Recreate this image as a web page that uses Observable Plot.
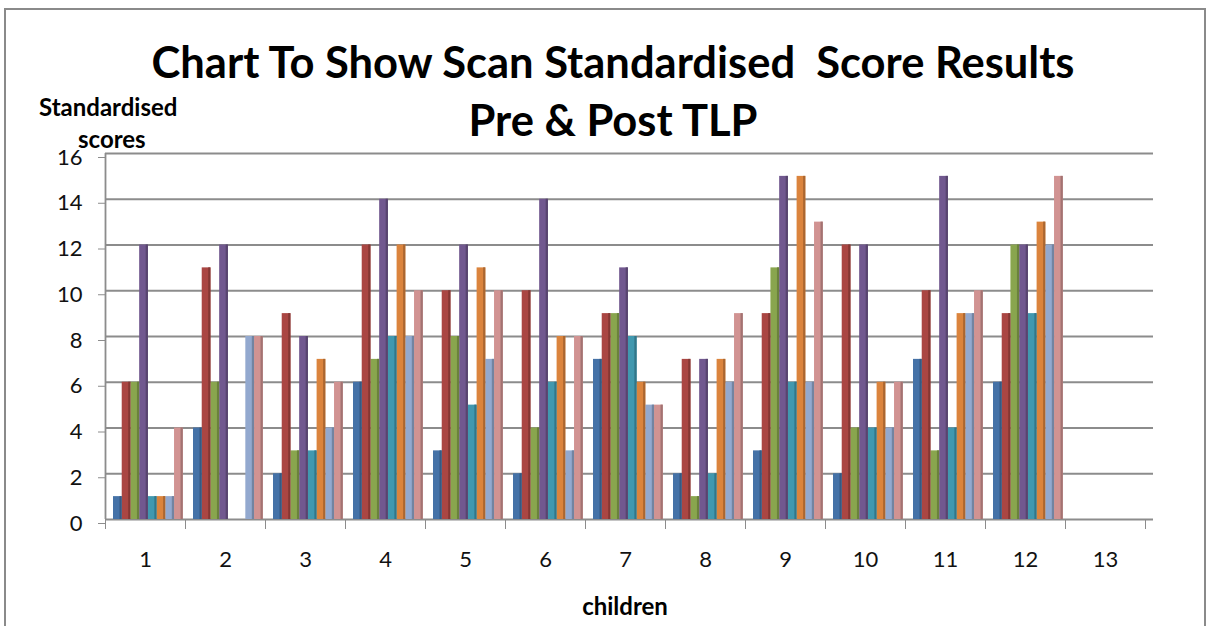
<!DOCTYPE html>
<html>
<head>
<meta charset="utf-8">
<script src="https://cdn.jsdelivr.net/npm/d3@7"></script>
<script src="https://cdn.jsdelivr.net/npm/@observablehq/plot@0.6"></script>
<style>
  html, body { margin: 0; padding: 0; background: #fff; overflow: hidden; }
  #page { position: relative; width: 1213px; height: 626px; font-family: Lato, "Open Sans", sans-serif; color: #000; }
  #border { position: absolute; left: 4px; top: 8px; width: 1202px; height: 660px; border: 2px solid #8a8a8a; box-sizing: border-box; }
  .title { position: absolute; left: 0; width: 1226px; text-align: center; font-weight: bold; font-size: 43.5px; white-space: pre; }
  .lab { position: absolute; font-weight: bold; font-size: 24px; white-space: pre; }
  #chart { position: absolute; left: 0; top: 0; }
</style>
</head>
<body>
<div id="page">
  <div id="border"></div>
  <div id="chart"></div>
  <div class="title" style="top:35px">Chart To Show Scan Standardised  Score Results</div>
  <div class="title" style="top:93px">Pre &amp; Post TLP</div>
  <div class="lab" style="left:39px; top:92px">Standardised</div>
  <div class="lab" style="left:78px; top:124px">scores</div>
  <div class="lab" style="left:12px; width:1226px; text-align:center; top:591px">children</div>
</div>
<script>
// Categories (children) and the eight series, in drawing order within each group
const children = [1, 2, 3, 4, 5, 6, 7, 8, 9, 10, 11, 12, 13];
const seriesNames = ["Series 1", "Series 2", "Series 3", "Series 4", "Series 5", "Series 6", "Series 7", "Series 8"];
const seriesColors = ["#4572A7", "#AA4643", "#89A54E", "#71588F", "#4198AF", "#DB843D", "#93A9CF", "#D19392"];

const series1 = [1, 4, 2, 6, 3, 2, 7, 2, 3, 2, 7, 6, null];
const series2 = [6, 11, 9, 12, 10, 10, 9, 7, 9, 12, 10, 9, null];
const series3 = [6, 6, 3, 7, 8, 4, 9, 1, 11, 4, 3, 12, null];
const series4 = [12, 12, 8, 14, 12, 14, 11, 7, 15, 12, 15, 12, null];
const series5 = [1, 0, 3, 8, 5, 6, 8, 2, 6, 4, 4, 9, null];
const series6 = [1, 0, 7, 12, 11, 8, 6, 7, 15, 6, 9, 13, null];
const series7 = [1, 8, 4, 8, 7, 3, 5, 6, 6, 4, 9, 12, null];
const series8 = [4, 8, 6, 10, 10, 8, 5, 9, 13, 6, 10, 15, null];

const yTicks = [0, 2, 4, 6, 8, 10, 12, 14, 16];

const allSeries = [series1, series2, series3, series4, series5, series6, series7, series8];

// Layout of bars inside each child's band (fractions of a band)
const groupStart = 0.1, barW = 0.109;

const rows = [];
children.forEach((c, ci) => {
  allSeries.forEach((s, si) => {
    const v = s[ci];
    if (v == null) return;
    const x1 = c - 0.5 + groupStart + si * barW;
    rows.push({child: c, series: seriesNames[si], value: v, x1, x2: x1 + barW, color: seriesColors[si]});
  });
});

const boundaries = [...children.map(c => c - 0.5), children[children.length - 1] + 0.5];

const chart = Plot.plot({
  width: 1213,
  height: 626,
  marginLeft: 105,
  marginRight: 68,
  marginTop: 153,
  marginBottom: 107,
  style: {fontFamily: "Lato, 'Open Sans', sans-serif", background: "transparent", overflow: "visible"},
  x: {domain: [boundaries[0], boundaries[boundaries.length - 1]], axis: null},
  y: {domain: [0, 16], axis: null},
  color: {domain: seriesNames, range: seriesColors},
  marks: [
    Plot.ruleY(yTicks, {stroke: "#8c8c8c", strokeWidth: 1.8, insetRight: -8}),
    Plot.ruleX([boundaries[0]], {y1: 0, y2: 16, stroke: "#8c8c8c", strokeWidth: 1.8}),
    Plot.axisY(yTicks, {tickSize: 7, tickPadding: 16, fontSize: 22, stroke: "#8c8c8c", color: "#111", dy: 4, label: null}),
    Plot.axisX(boundaries, {tickSize: 10, tickFormat: () => "", stroke: "#8c8c8c", label: null}),
    Plot.axisX(children, {tickSize: 0, tickPadding: 32, fontSize: 22, color: "#111", label: null}),
    Plot.rectY(rows, {x1: "x1", x2: "x2", y1: 0, y2: "value", fill: "series"}),
    Plot.rectY(rows, {x1: "x1", x2: "x2", y1: 0, y2: "value", fill: d => d3.color(d.color).darker(0.7).formatHex(), insetLeft: 6.5})
  ]
});
document.getElementById("chart").appendChild(chart);
</script>
</body>
</html>
